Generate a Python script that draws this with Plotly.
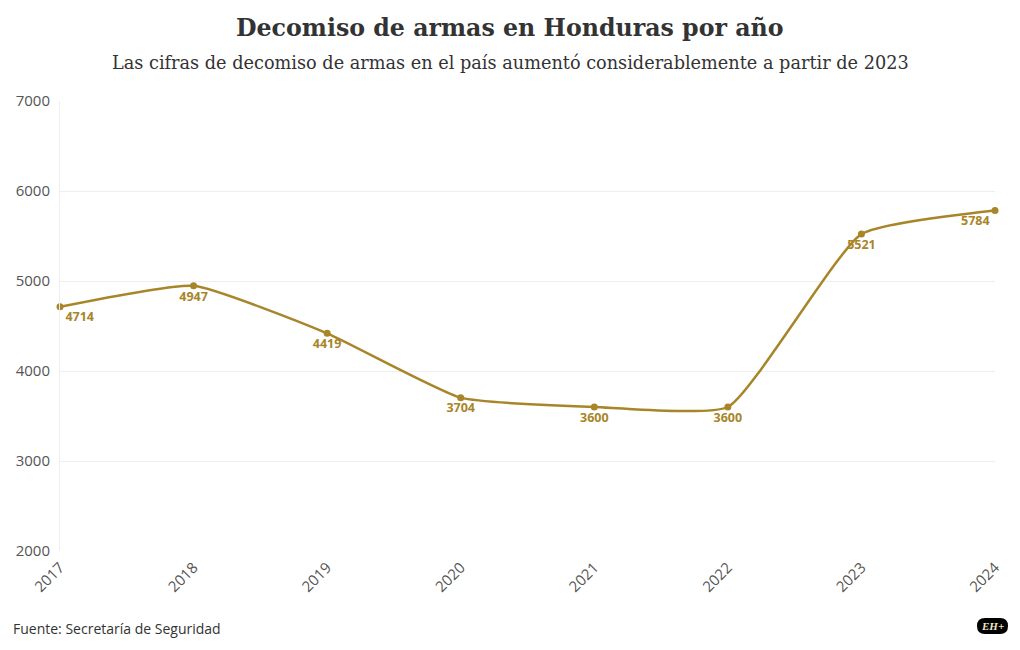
import plotly.graph_objects as go

years = [2017, 2018, 2019, 2020, 2021, 2022, 2023, 2024]
decomisos = [4714, 4947, 4419, 3704, 3600, 3600, 5521, 5784]
y_ticks = [2000, 3000, 4000, 5000, 6000, 7000]

color = "#A9852A"
positions = ["bottom right"] + ["bottom center"] * (len(years) - 2) + ["bottom left"]

# page body has an 8px margin; figure is sized to fit the 1020x650 window
OFF = 8
W, H = 1020 - OFF, 650 - OFF
ML, MR, MT, MB = 60 - OFF, 25, 101 - OFF, 99
plot_h = H - MT - MB
plot_w = W - ML - MR
def py(pix):
    return (H - MB - (pix - OFF)) / plot_h
def px(pix):
    return ((pix - OFF) - ML) / plot_w

fig = go.Figure()
fig.add_trace(go.Scatter(
    x=years, y=decomisos,
    mode="lines+markers+text",
    line=dict(color=color, width=2.5, shape="spline", smoothing=0.45),
    marker=dict(color=color, size=7),
    text=[str(v) for v in decomisos],
    textposition=positions,
    textfont=dict(family="Open Sans", size=12.5, color=color, weight="bold"),
    cliponaxis=False,
    hoverinfo="x+y",
))

# rounded pill for logo (decoration)
x0, x1, y0, y1 = px(977), px(1008), py(634), py(618)
rx = 8 / plot_w
ym = (y0 + y1) / 2
pill = (f"M {x0+rx},{y0} L {x1-rx},{y0} Q {x1},{y0} {x1},{ym} "
        f"Q {x1},{y1} {x1-rx},{y1} L {x0+rx},{y1} Q {x0},{y1} {x0},{ym} "
        f"Q {x0},{y0} {x0+rx},{y0} Z")

fig.update_layout(
    width=W, height=H,
    margin=dict(l=ML, r=MR, t=MT, b=MB, autoexpand=False),
    paper_bgcolor="white", plot_bgcolor="white",
    showlegend=False,
    xaxis=dict(
        range=[2017, 2024], tickvals=years, ticktext=[str(y) for y in years],
        tickangle=-45, showgrid=False, zeroline=False, automargin=False,
        showline=False,
        tickfont=dict(family="Open Sans", size=15, color="#555"),
        ticks="", ticklabelstandoff=4,
    ),
    yaxis=dict(
        range=[2000, 7000], tickvals=y_ticks, automargin=False,
        showgrid=True, gridcolor="#eeeeee", gridwidth=1, zeroline=False,
        showline=True, linecolor="#eeeeee", linewidth=1,
        tickfont=dict(family="Open Sans", size=15, color="#555"),
        ticks="", ticklabelstandoff=6,
    ),
    shapes=[dict(type="path", path=pill, xref="paper", yref="paper",
                 fillcolor="black", line=dict(width=0), layer="above")],
    annotations=[
        dict(text="<b>Decomiso de armas en Honduras por año</b>", x=px(510), y=py(28),
             xref="paper", yref="paper", showarrow=False, xanchor="center", yanchor="middle",
             font=dict(family="DejaVu Serif", size=23.7, color="#333")),
        dict(text="Las cifras de decomiso de armas en el país aumentó considerablemente a partir de 2023",
             x=px(510), y=py(63), xref="paper", yref="paper", showarrow=False,
             xanchor="center", yanchor="middle",
             font=dict(family="DejaVu Serif", size=17.7, color="#333")),
        dict(text="Fuente: Secretaría de Seguridad", x=px(11), y=py(628), xref="paper", yref="paper",
             showarrow=False, xanchor="left", yanchor="middle",
             font=dict(family="Open Sans", size=14, color="#333")),
        dict(text="<b><i>EH+</i></b>", x=px(992.5), y=py(626), xref="paper", yref="paper",
             showarrow=False, xanchor="center", yanchor="middle",
             font=dict(family="Liberation Serif", size=11, color="#f3e6c4")),
    ],
)

fig.write_html("out.html")
